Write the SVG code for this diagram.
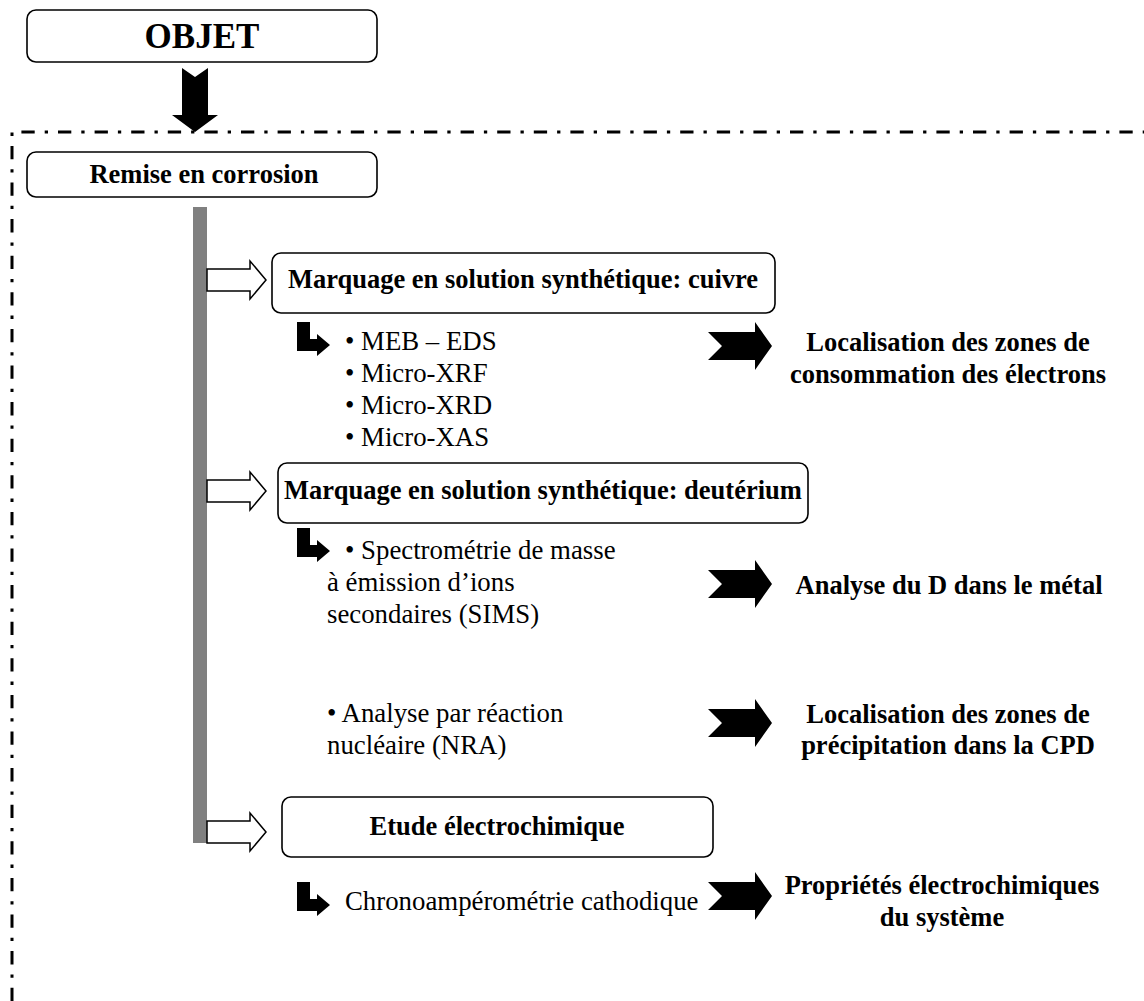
<svg xmlns="http://www.w3.org/2000/svg" width="1144" height="1001" viewBox="0 0 1144 1001">
<defs>
<style>
.box{fill:#fff;stroke:#000;stroke-width:1.6}
.b{font-family:"Liberation Serif","Times New Roman",serif;font-weight:bold;font-size:26.5px;fill:#000}
.r{font-family:"Liberation Serif","Times New Roman",serif;font-size:26.8px;fill:#000}
.mid{text-anchor:middle}
.frame{fill:none;stroke:#000;stroke-width:3;stroke-dasharray:13.3 10 3.3 10}
.hollow{fill:#fff;stroke:#000;stroke-width:1.5;stroke-linejoin:miter}
.solid{fill:#000}
</style>
<path id="chev" d="M0,-14 H47 V-24 L64,0 L47,24 V14 H0 L14,0 Z"/>
<path id="ell" d="M0,0 H13 V17 H20 V12 L33,23 L20,34 V29 H0 Z"/>
<path id="hol" d="M0,-11 H43 V-19 L59,0 L43,19 V11 H0 Z"/>
</defs>
<rect width="1144" height="1001" fill="#fff"/>

<g id="frame">
<path class="frame" d="M12,1001 V132 H1144"/>
</g>

<g id="connectors">
<path class="solid" d="M182,68 L195,77 L208,68 V115 H218 L195,132 L172,115 H182 Z"/>
<rect x="193" y="207" width="14" height="636" fill="#808080"/>
<use href="#hol" class="hollow" x="207" y="280"/>
<use href="#hol" class="hollow" x="207" y="491"/>
<use href="#hol" class="hollow" x="207" y="832"/>
<use href="#ell" class="solid" x="297" y="322"/>
<use href="#ell" class="solid" x="297" y="528"/>
<use href="#ell" class="solid" x="297" y="882"/>
<use href="#chev" class="solid" x="708" y="346"/>
<use href="#chev" class="solid" x="708" y="584"/>
<use href="#chev" class="solid" x="708" y="723"/>
<use href="#chev" class="solid" x="708" y="896"/>
</g>

<g id="objet">
<rect class="box" x="27" y="10" width="350" height="52" rx="9"/>
<text class="b mid" x="202" y="48" style="font-size:35px">OBJET</text>
</g>

<g id="remise">
<rect class="box" x="27" y="152" width="350" height="45" rx="9"/>
<text class="b mid" x="204" y="183">Remise en corrosion</text>
</g>

<g id="cuivre">
<rect class="box" x="272" y="253" width="503" height="60" rx="9"/>
<text class="b mid" x="523" y="288">Marquage en solution synthétique: cuivre</text>
</g>

<g id="cuivre-methods">
<text class="r" x="345" y="350">• MEB – EDS</text>
<text class="r" x="345" y="382">• Micro-XRF</text>
<text class="r" x="345" y="414">• Micro-XRD</text>
<text class="r" x="345" y="446">• Micro-XAS</text>
</g>

<g id="cuivre-result">
<text class="b mid" x="948" y="351">Localisation des zones de</text>
<text class="b mid" x="948" y="383">consommation des électrons</text>
</g>

<g id="deuterium">
<rect class="box" x="278" y="463" width="530" height="60" rx="9"/>
<text class="b mid" x="543" y="499">Marquage en solution synthétique: deutérium</text>
</g>

<g id="sims">
<text class="r" x="345" y="559">• Spectrométrie de masse</text>
<text class="r" x="327" y="591">à émission d’ions</text>
<text class="r" x="327" y="623">secondaires (SIMS)</text>
</g>

<g id="sims-result">
<text class="b mid" x="949" y="594">Analyse du D dans le métal</text>
</g>

<g id="nra">
<text class="r" x="327" y="722">• Analyse par réaction</text>
<text class="r" x="327" y="754">nucléaire (NRA)</text>
</g>

<g id="nra-result">
<text class="b mid" x="948" y="723">Localisation des zones de</text>
<text class="b mid" x="948" y="754">précipitation dans la CPD</text>
</g>

<g id="electro">
<rect class="box" x="282" y="797" width="431" height="60" rx="9"/>
<text class="b mid" x="497" y="835">Etude électrochimique</text>
</g>

<g id="chrono">
<text class="r" x="345" y="910">Chronoampérométrie cathodique</text>
</g>

<g id="electro-result">
<text class="b mid" x="942" y="894">Propriétés électrochimiques</text>
<text class="b mid" x="942" y="926">du système</text>
</g>
</svg>
